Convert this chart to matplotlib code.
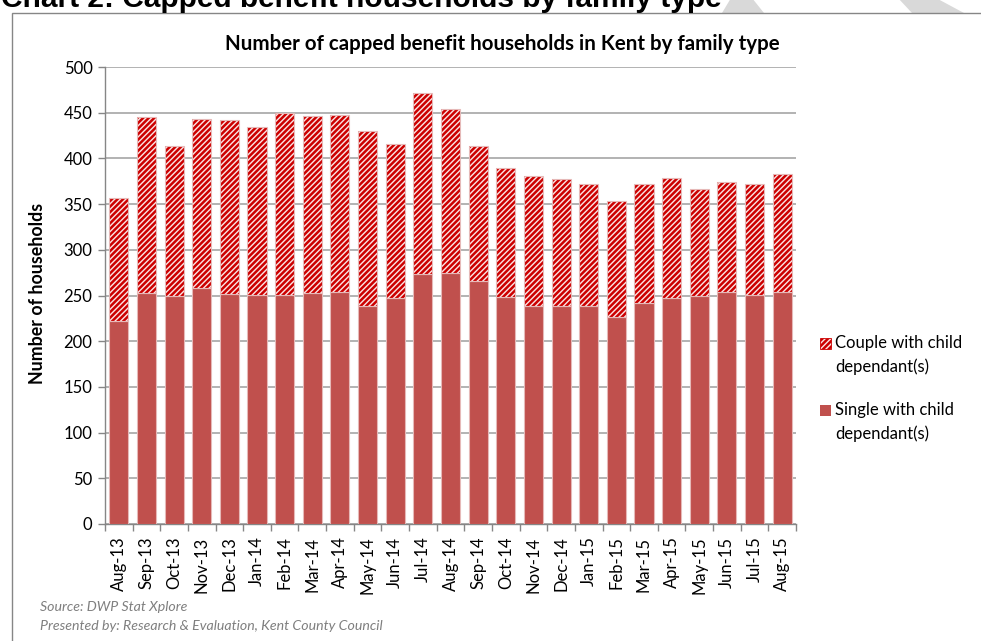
import matplotlib
matplotlib.use("Agg")
import matplotlib.pyplot as plt
from matplotlib.patches import Rectangle, Polygon
import numpy as np

# Monthly counts of capped benefit households in Kent
months = ["Aug-13", "Sep-13", "Oct-13", "Nov-13", "Dec-13", "Jan-14", "Feb-14",
          "Mar-14", "Apr-14", "May-14", "Jun-14", "Jul-14", "Aug-14", "Sep-14",
          "Oct-14", "Nov-14", "Dec-14", "Jan-15", "Feb-15", "Mar-15", "Apr-15",
          "May-15", "Jun-15", "Jul-15", "Aug-15"]
single_with_child = [222, 253, 250, 258, 252, 251, 251, 253, 254, 238, 247, 273, 275,
                     266, 248, 238, 238, 238, 226, 242, 247, 249, 254, 251, 254]
total_households = [357, 445, 414, 443, 442, 434, 450, 446, 448, 430, 416, 472, 454,
                    414, 390, 381, 378, 372, 353, 372, 379, 366, 374, 372, 383]
couple_with_child = [t - s for t, s in zip(total_households, single_with_child)]

y_ticks = list(range(0, 501, 50))
series_labels = [["Couple with child", "dependant(s)"],
                 ["Single with child", "dependant(s)"]]

W, H = 981, 641
plt.rcParams["font.family"] = ["Lato", "DejaVu Sans"]
plt.rcParams["hatch.linewidth"] = 1.8

fig = plt.figure(figsize=(W / 100, H / 100), dpi=100)


def fx(x):
    return x / W


def fy(y):
    return 1 - y / H


# light grey watermark shapes behind the heading
for pts in ([(731, -2), (752, -2), (764, 13), (722, 13)],
            [(898, -2), (936, -2), (964, 13), (912, 13)]):
    fig.add_artist(Polygon([(fx(a), fy(b)) for a, b in pts], closed=True,
                           transform=fig.transFigure, facecolor="#D9D9D9",
                           edgecolor="none", zorder=0))

# chart frame
fig.add_artist(Rectangle((fx(12), fy(H + 20)), fx(W + 20), (H + 20 - 12.5) / H,
                         transform=fig.transFigure, facecolor="white",
                         edgecolor="#868686", linewidth=1.0, zorder=1))

fig.text(fx(1), fy(7), "Chart 2: Capped benefit households by family type",
         family="Liberation Sans", fontweight="bold", fontsize=21.5,
         ha="left", va="baseline", zorder=2)

ax = fig.add_axes([fx(105), fy(524), fx(796) - fx(105), fy(67) - fy(524)])
ax.set_zorder(3)
ax.patch.set_alpha(0)

x = np.arange(len(months))
bw = 0.69
single_col = "#C0504D"
hatch_col = "#CC0000"
hatch_bg = "#FBE4E4"
edge_col = "#E6B9B8"

ax.bar(x, single_with_child, width=bw, color=single_col, edgecolor=edge_col,
       linewidth=0.8, zorder=3)
ax.bar(x, couple_with_child, width=bw, bottom=single_with_child,
       facecolor=hatch_bg, edgecolor=hatch_col, hatch="//////", linewidth=0, zorder=3)
ax.bar(x, couple_with_child, width=bw, bottom=single_with_child,
       fill=False, edgecolor=edge_col, linewidth=0.8, zorder=4)

ax.set_xlim(-0.5, len(months) - 0.5)
ax.set_ylim(0, 500)
ax.set_yticks(y_ticks)
ax.set_yticklabels([str(v) for v in y_ticks])
ax.set_xticks(x)
ax.set_xticklabels(months, rotation=90)
ax.set_xticks(np.arange(-0.5, len(months), 1.0), minor=True)
ax.tick_params(axis="x", which="major", length=0, pad=9, labelsize=12)
ax.tick_params(axis="x", which="minor", length=5, width=1, color="#868686")
ax.tick_params(axis="y", length=5, width=1, color="#868686", pad=4, labelsize=12)

ax.grid(axis="y", color="#A6A6A6", linewidth=1.2, zorder=0)
ax.set_axisbelow(True)
for side in ("top", "right"):
    ax.spines[side].set_visible(False)
for side in ("left", "bottom"):
    ax.spines[side].set_color("#868686")
    ax.spines[side].set_linewidth(1.0)

fig.text(fx(502), fy(44), "Number of capped benefit households in Kent by family type",
         fontweight="bold", fontsize=14.8, ha="center", va="center", zorder=5)
fig.text(fx(38), fy(293), "Number of households", fontweight="bold", fontsize=12.8,
         rotation=90, ha="center", va="center", zorder=5)

# legend: swatch beside the first line of each two-line label
legend_rows = [(343, dict(facecolor=hatch_bg, edgecolor=hatch_col, hatch="//////",
                          linewidth=0.6)),
               (410, dict(facecolor=single_col, edgecolor=single_col, linewidth=0))]
for (ly, style), lines in zip(legend_rows, series_labels):
    fig.add_artist(Rectangle((fx(820), fy(ly + 5.5)), 11 / W, 11 / H,
                             transform=fig.transFigure, zorder=5, **style))
    for i, line in enumerate(lines):
        fig.text(fx(835), fy(ly + 23.5 * i), line, fontsize=12,
                 ha="left", va="center", zorder=5)

fig.text(fx(40), fy(607), "Source: DWP Stat Xplore", style="italic", color="#7F7F7F",
         fontsize=10.2, ha="left", va="center", zorder=5)
fig.text(fx(40), fy(626), "Presented by: Research & Evaluation, Kent County Council",
         style="italic", color="#7F7F7F", fontsize=10.2, ha="left", va="center", zorder=5)

fig.savefig("out.png", dpi=100)
